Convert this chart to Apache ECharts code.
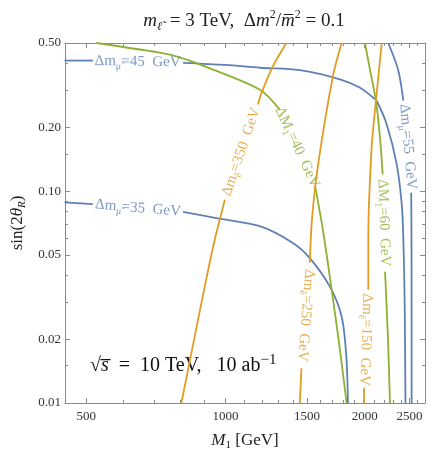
<!DOCTYPE html>
<html>
<head>
<meta charset="utf-8">
<script src="https://cdn.jsdelivr.net/npm/echarts@6/dist/echarts.min.js"></script>
<style>
  html, body { margin: 0; padding: 0; background: #fff; }
  #chart { width: 436px; height: 458px; }
</style>
</head>
<body>
<div id="chart"></div>
<script>
// tick values (log axes)
var xMajor = [500, 1000, 1500, 2000, 2500];
var xMinor = [600, 700, 800, 900, 1100, 1200, 1300, 1400, 1600, 1700, 1800, 1900, 2100, 2200, 2300, 2400, 2600];
var yMajor = [0.01, 0.02, 0.05, 0.1, 0.2, 0.5];
var yMinor = [0.015, 0.03, 0.04, 0.06, 0.07, 0.08, 0.09, 0.15, 0.3, 0.4];

// contours, [M1, sin2theta], split where the inline label sits
var mu45A = [[449, 0.413], [517, 0.413]];
var mu45B = [[810, 0.403], [1000, 0.394], [1187, 0.382], [1448, 0.372], [1768, 0.337], [1950, 0.308], [2087, 0.276], [2122, 0.267], [2231, 0.207], [2345, 0.134], [2405, 0.0865], [2424, 0.060], [2440, 0.03], [2450, 0.01]];
var mu55A = [[2249, 0.5], [2364, 0.371], [2424, 0.267]];
var mu55B = [[2521, 0.0983], [2525, 0.05], [2526, 0.01]];
var mu35A = [[449, 0.0884], [517, 0.0869]];
var mu35B = [[810, 0.0797], [956, 0.0746], [1195, 0.068], [1401, 0.0568], [1522, 0.0483], [1682, 0.0354], [1783, 0.0256], [1821, 0.0178], [1835, 0.0128], [1840, 0.01]];
var m40A = [[526, 0.5], [721, 0.450], [796, 0.428], [880, 0.396], [1187, 0.301], [1311, 0.242]];
var m40B = [[1561, 0.107], [1624, 0.0657], [1705, 0.0318], [1768, 0.0178], [1828, 0.01]];
var m60A = [[2002, 0.5], [2053, 0.375], [2115, 0.267], [2158, 0.179], [2187, 0.120]];
var m60B = [[2213, 0.0416], [2246, 0.0199], [2268, 0.01]];
var e350A = [[1355, 0.5], [1266, 0.388], [1197, 0.291], [1175, 0.256]];
var e350B = [[997, 0.091], [972, 0.0732], [948, 0.0589], [902, 0.0354], [844, 0.0172], [803, 0.01]];
var e250A = [[1783, 0.5], [1707, 0.348], [1584, 0.131], [1538, 0.0732], [1522, 0.0459]];
var e250B = [[1460, 0.0146], [1448, 0.01]];
var e150A = [[2177, 0.5], [2115, 0.267], [2070, 0.160], [2036, 0.0602], [2036, 0.0342]];
var e150B = [[1993, 0.0118], [1993, 0.01]];

// contour labels
var labelText = [
  'Δm{s|μ̃}=45  GeV', 'Δm{s|μ̃}=35  GeV', 'Δm{s|μ̃}=55  GeV',
  'ΔM{s|1}=40  GeV', 'ΔM{s|1}=60  GeV',
  'Δm{s|ẽ}=350  GeV', 'Δm{s|ẽ}=250  GeV', 'Δm{s|ẽ}=150  GeV'
];
var labelPos = [[646, 0.408], [647, 0.0831], [2480, 0.162], [1430, 0.161], [2200, 0.0709], [1082, 0.153], [1491, 0.0259], [2012, 0.0199]];
var labelRot = [-1, -5, -85, -65, -88, 71, -94.5, -92];

var blue = '#5E81B5', orange = '#E19C24', green = '#8FB032';
var labelColor = [blue, blue, blue, green, green, orange, orange, orange];
var serif = 'Liberation Serif';
var frame = '#8a8a8a';

function fmtTick(v) {
  return v < 1 ? v.toFixed(2) : String(Math.round(v));
}

function axis(dim, pos, ticks, len, labelled) {
  return {
    type: 'log',
    position: pos,
    min: dim === 'x' ? 450 : 0.01,
    max: dim === 'x' ? 2700 : 0.5,
    axisLine: { show: len > 4, onZero: false, lineStyle: { color: frame, width: 1 } },
    axisTick: { show: true, inside: true, length: len, customValues: ticks, lineStyle: { color: frame, width: 1 } },
    axisLabel: { show: labelled, customValues: ticks, formatter: fmtTick, color: '#333', fontFamily: serif, fontSize: 13, margin: dim === 'x' ? 7 : 4 },
    splitLine: { show: false },
    minorTick: { show: false }
  };
}

function seg(data, color) {
  return {
    type: 'line', data: data, symbol: 'none', smooth: 0.3, silent: true,
    lineStyle: { color: color, width: 1.8 }, z: 3
  };
}

var chart = echarts.init(document.getElementById('chart'), null, { renderer: 'canvas' });

var xAxes = [
  axis('x', 'bottom', xMajor, 5, true),
  axis('x', 'bottom', xMinor, 3, false),
  axis('x', 'top', xMajor, 5, false),
  axis('x', 'top', xMinor, 3, false)
];
xAxes[0].name = '{i|M}{s|1} [GeV]';
xAxes[0].nameLocation = 'middle';
xAxes[0].nameGap = 28;
xAxes[0].nameTextStyle = {
  fontFamily: serif, fontSize: 17, color: '#222',
  rich: { i: { fontFamily: serif, fontSize: 17, fontStyle: 'italic' }, s: { fontFamily: serif, fontSize: 11, verticalAlign: 'bottom', lineHeight: 20 } }
};

var yAxes = [
  axis('y', 'left', yMajor, 5, true),
  axis('y', 'left', yMinor, 3, false),
  axis('y', 'right', yMajor, 5, false),
  axis('y', 'right', yMinor, 3, false)
];
yAxes[0].name = 'sin(2{i|θ}{s|R})';
yAxes[0].nameLocation = 'middle';
yAxes[0].nameGap = 36;
yAxes[0].nameTextStyle = {
  fontFamily: serif, fontSize: 17, color: '#222',
  rich: { i: { fontFamily: serif, fontSize: 17, fontStyle: 'italic' }, s: { fontFamily: serif, fontSize: 11, fontStyle: 'italic', verticalAlign: 'bottom', lineHeight: 20 } }
};

var series = [
  seg(mu45A, blue), seg(mu45B, blue),
  seg(mu55A, blue), seg(mu55B, blue),
  seg(mu35A, blue), seg(mu35B, blue),
  seg(m40A, green), seg(m40B, green),
  seg(m60A, green), seg(m60B, green),
  seg(e350A, orange), seg(e350B, orange),
  seg(e250A, orange), seg(e250B, orange),
  seg(e150A, orange), seg(e150B, orange)
];

series.push({
  type: 'scatter', symbolSize: 0, silent: true, z: 4,
  data: labelPos.map(function (p, i) {
    return {
      value: p,
      label: { show: true, formatter: labelText[i], rotate: labelRot[i], color: labelColor[i] }
    };
  }),
  label: {
    position: 'inside', fontFamily: serif, fontSize: 15, lineHeight: 20,
    rich: { s: { fontFamily: serif, fontSize: 10, verticalAlign: 'bottom', lineHeight: 20 } }
  }
});

chart.setOption({
  animation: false,
  grid: { left: 65, right: 11, top: 43, bottom: 55, containLabel: false, outerBoundsMode: 'none' },
  xAxis: xAxes,
  yAxis: yAxes,
  series: series,
  graphic: [
    {
      type: 'text', x: 244, y: 21,
      style: {
        text: '{i|m}{s|ℓ̃} = 3 TeV,  Δ{i|m}{p|2}/{i|m̅}{p|2} = 0.1',
        fontFamily: serif, fontSize: 19, fill: '#222', align: 'center', verticalAlign: 'middle',
        rich: {
          i: { fontFamily: serif, fontSize: 19, fontStyle: 'italic', lineHeight: 24 },
          s: { fontFamily: serif, fontSize: 12, fontStyle: 'italic', verticalAlign: 'bottom', lineHeight: 24, padding: [0, 3, 0, 0] },
          p: { fontFamily: serif, fontSize: 12, verticalAlign: 'top', lineHeight: 24 }
        }
      }
    },
    {
      type: 'text', x: 90, y: 366,
      style: {
        text: '√{i|s̅}  =  10 TeV,   10 ab{p|−1}',
        fontFamily: serif, fontSize: 20, fill: '#111', align: 'left', verticalAlign: 'middle',
        rich: {
          i: { fontFamily: serif, fontSize: 20, fontStyle: 'italic', lineHeight: 26 },
          p: { fontFamily: serif, fontSize: 15, verticalAlign: 'top', lineHeight: 26 }
        }
      }
    }
  ]
});
</script>
</body>
</html>
